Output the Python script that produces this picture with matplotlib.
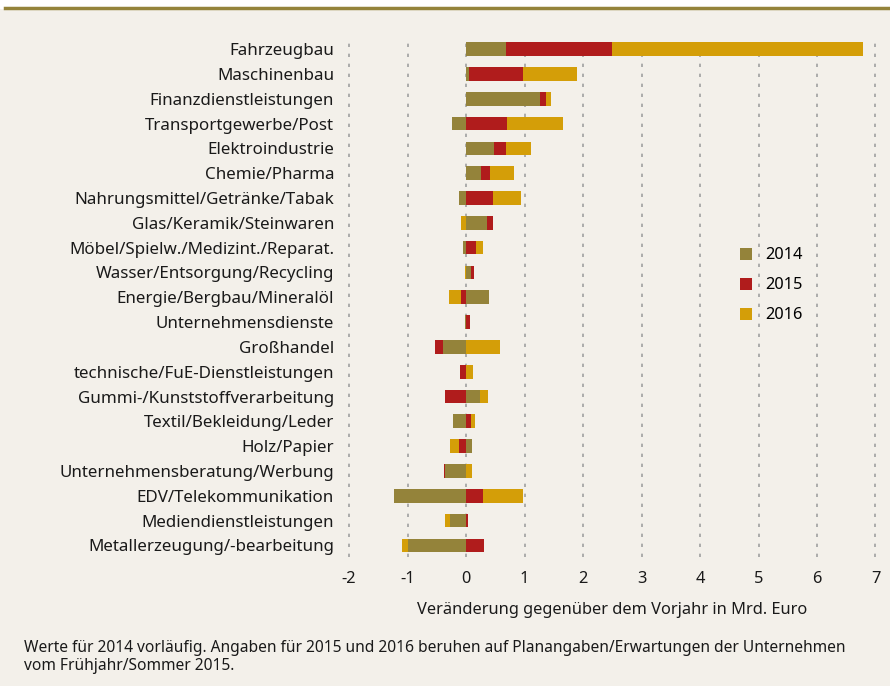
import matplotlib.pyplot as plt
import numpy as np

plt.rcParams['font.family'] = ['Noto Sans', 'DejaVu Sans']
plt.rcParams['axes.unicode_minus'] = False

branchen = [
    'Fahrzeugbau', 'Maschinenbau', 'Finanzdienstleistungen',
    'Transportgewerbe/Post', 'Elektroindustrie', 'Chemie/Pharma',
    'Nahrungsmittel/Getränke/Tabak', 'Glas/Keramik/Steinwaren',
    'Möbel/Spielw./Medizint./Reparat.', 'Wasser/Entsorgung/Recycling',
    'Energie/Bergbau/Mineralöl', 'Unternehmensdienste', 'Großhandel',
    'technische/FuE-Dienstleistungen', 'Gummi-/Kunststoffverarbeitung',
    'Textil/Bekleidung/Leder', 'Holz/Papier',
    'Unternehmensberatung/Werbung', 'EDV/Telekommunikation',
    'Mediendienstleistungen', 'Metallerzeugung/-bearbeitung',
]
v2014 = [0.69, 0.05, 1.26, -0.24, 0.48, 0.26, -0.13, 0.36, -0.05, 0.085,
         0.39, -0.02, -0.39, 0.0, 0.24, -0.22, 0.10, -0.36, -1.23, -0.275, -0.99]
v2015 = [1.80, 0.92, 0.10, 0.70, 0.20, 0.14, 0.46, 0.10, 0.17, 0.05,
         -0.09, 0.07, -0.15, -0.10, -0.36, 0.085, -0.12, -0.02, 0.29, 0.035, 0.31]
v2016 = [4.30, 0.92, 0.09, 0.96, 0.43, 0.42, 0.48, -0.08, 0.12, -0.02,
         -0.20, 0.0, 0.58, 0.12, 0.14, 0.07, -0.15, 0.10, 0.68, -0.085, -0.10]
jahre = ['2014', '2015', '2016']
farben = ['#94833a', '#b01c1c', '#d49e08']
bg = '#f3f0ea'

fig = plt.figure(figsize=(8.9, 6.86), dpi=100, facecolor=bg)
ax = fig.add_axes([0.391, 0.188, 0.594, 0.7566])
ax.set_facecolor(bg)

y = np.arange(len(branchen))
pos = np.zeros(len(branchen))
neg = np.zeros(len(branchen))
for werte, farbe, jahr in zip([v2014, v2015, v2016], farben, jahre):
    w = np.array(werte)
    left = np.where(w >= 0, pos, neg)
    ax.barh(y, w, left=left, height=0.55, color=farbe, label=jahr, zorder=3)
    pos = pos + np.where(w > 0, w, 0)
    neg = neg + np.where(w < 0, w, 0)

ax.set_xlim(-2.02, 7.02)
ax.set_ylim(20.47, -0.45)
ax.set_xticks(range(-2, 8))
ax.set_xticklabels([str(i) for i in range(-2, 8)])
ax.set_yticks(y)
ax.set_yticklabels(branchen)
ax.tick_params(length=0, colors='#1a1a1a')
ax.tick_params(axis='y', pad=10, labelsize=12.2)
ax.tick_params(axis='x', pad=10, labelsize=11.8)
for s in ax.spines.values():
    s.set_visible(False)
ax.grid(axis='x', color='#a0a0a0', linestyle=(0, (2, 4)), linewidth=1.2, zorder=0)
ax.set_xlabel('Veränderung gegenüber dem Vorjahr in Mrd. Euro', fontsize=11.8,
              color='#1a1a1a', labelpad=11)

ax.legend(loc='upper left', bbox_to_anchor=(0.713, 0.625), frameon=False,
          fontsize=11.8, handlelength=0.75, handleheight=0.75, labelspacing=0.85,
          handletextpad=0.8)

fig.text(0.027, 0.042, 'Werte für 2014 vorläufig. Angaben für 2015 und 2016 beruhen auf '
         'Planangaben/Erwartungen der Unternehmen\nvom Frühjahr/Sommer 2015.',
         fontsize=11.2, color='#1a1a1a', va='center', linespacing=1.15)

fig.patches.append(plt.Rectangle((0, 0.988), 1, 0.012, transform=fig.transFigure,
                                 color='white', zorder=0))
fig.lines.append(plt.Line2D([0.006, 1], [0.988, 0.988], transform=fig.transFigure,
                            color='#94833a', linewidth=2.5))

fig.savefig('out.png', dpi=100, facecolor=bg)
